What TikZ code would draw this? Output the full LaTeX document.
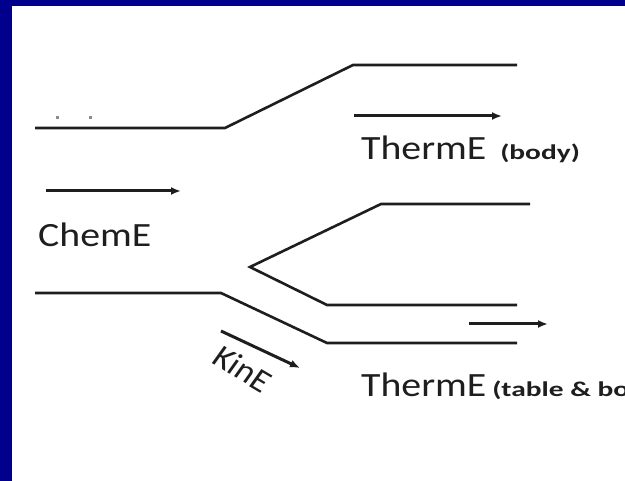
\documentclass[tikz,border=0pt]{standalone}
\usepackage{fontspec}
\setmainfont{Carlito}
\usetikzlibrary{arrows.meta}
\definecolor{frameblue}{RGB}{0,0,140}
\definecolor{ink}{RGB}{30,30,30}
\tikzset{
  wire/.style={draw=ink, line width=2.6pt, line join=miter},
  flow/.style={draw=ink, line width=3pt, -{Latex[length=10pt,width=8pt]}},
  bigtxt/.style={inner sep=0pt, anchor=base west, font=\fontsize{34}{40}\selectfont, xscale=1.17, text=ink},
  smalltxt/.style={inner sep=0pt, anchor=base west, font=\bfseries\fontsize{21}{25}\selectfont, xscale=1.4, text=ink}
}
\begin{document}
\begin{tikzpicture}[x=1pt,y=-1pt]
\clip (0,0) rectangle (625,481);
\fill[white] (0,0) rectangle (625,481);
\fill[frameblue] (0,0) rectangle (12,481);
\fill[frameblue] (0,0) rectangle (625,6);
% faint dots
\fill[black!45] (56,116) rectangle (59,119);
\fill[black!45] (89,116) rectangle (92,119);
% top channel wall
\coordinate (t1) at (35,128);
\coordinate (t2) at (225,128);
\coordinate (t3) at (353,65);
\coordinate (t4) at (517,65);
\draw[wire] (t1) -- (t2) -- (t3) -- (t4);
% bottom channel wall
\coordinate (b1) at (35,293);
\coordinate (b2) at (221,293);
\coordinate (b3) at (327,343);
\coordinate (b4) at (517,343);
\draw[wire] (b1) -- (b2) -- (b3) -- (b4);
% middle wedge
\coordinate (m1) at (530,204);
\coordinate (m2) at (381,204);
\coordinate (m3) at (250,267);
\coordinate (m4) at (327,305);
\coordinate (m5) at (517,305);
\draw[wire] (m1) -- (m2) -- (m3) -- (m4) -- (m5);
% arrows
\coordinate (ca) at (46,191);
\coordinate (cb) at (181,191);
\draw[flow] (ca) -- (cb);
\coordinate (ta) at (354,116);
\coordinate (tb) at (502,116);
\draw[flow] (ta) -- (tb);
\coordinate (sa) at (469,324);
\coordinate (sb) at (548,324);
\draw[flow] (sa) -- (sb);
\coordinate (ka) at (221,331);
\coordinate (kb) at (300,368);
\draw[flow] (ka) -- (kb);
% labels
\node[bigtxt] (chem) at (38,247) {ChemE};
\node[bigtxt] (therm1) at (361,160) {ThermE};
\node[smalltxt] (body) at (500,160) {(body)};
\node[bigtxt] (therm2) at (361,397) {ThermE};
\node[smalltxt] (table) at (492,397) {(table \& body)};
\node[inner sep=0pt, font=\fontsize{32}{38}\selectfont, xscale=1.1, rotate=-33, text=ink] (kin) at (243,369) {KinE};
\end{tikzpicture}
\end{document}
